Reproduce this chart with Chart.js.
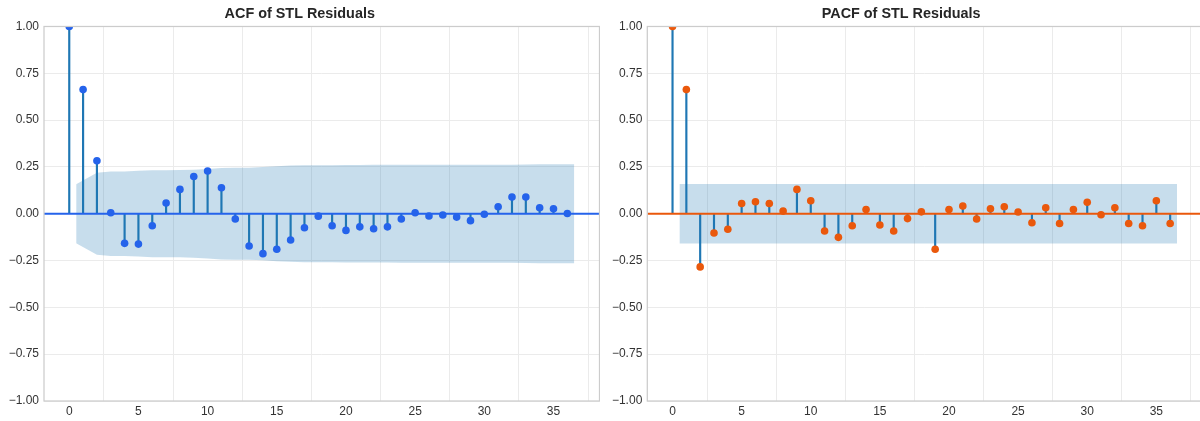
<!DOCTYPE html>
<html>
<head>
<meta charset="utf-8">
<title>ACF / PACF of STL Residuals</title>
<script src="https://cdn.jsdelivr.net/npm/chart.js@4.4.1/dist/chart.umd.min.js"></script>
<style>
  html, body { margin: 0; padding: 0; background: #ffffff; width: 1200px; height: 421px; overflow: hidden; }
  #acfChart  { position: absolute; left: 0;     top: 0; }
  #pacfChart { position: absolute; left: 600px; top: 0; }
</style>
</head>
<body>
<canvas id="acfChart" width="600" height="421"></canvas>
<canvas id="pacfChart" width="605" height="421"></canvas>
<script>
// ---- data ---------------------------------------------------------------
const lags = [0, 1, 2, 3, 4, 5, 6, 7, 8, 9, 10, 11, 12, 13, 14, 15, 16, 17, 18,
              19, 20, 21, 22, 23, 24, 25, 26, 27, 28, 29, 30, 31, 32, 33, 34, 35, 36];

const acfValues = [1.000, 0.663, 0.283, 0.005, -0.158, -0.162, -0.064, 0.057, 0.130,
                   0.199, 0.228, 0.139, -0.028, -0.172, -0.213, -0.190, -0.140, -0.075,
                   -0.013, -0.064, -0.089, -0.070, -0.080, -0.070, -0.028, 0.005, -0.012,
                   -0.007, -0.018, -0.037, -0.003, 0.037, 0.089, 0.089, 0.032, 0.027, 0.001];

const pacfValues = [1.000, 0.663, -0.284, -0.103, -0.083, 0.055, 0.064, 0.055, 0.014,
                    0.130, 0.069, -0.092, -0.126, -0.064, 0.023, -0.060, -0.092, -0.026,
                    0.010, -0.190, 0.023, 0.041, -0.028, 0.027, 0.037, 0.009, -0.048,
                    0.032, -0.052, 0.023, 0.061, -0.005, 0.032, -0.052, -0.064, 0.069, -0.052];

// 95% confidence band (half-width), drawn from lag 0.5 to lag 36.5
const acfBandLags = [0.5, 2, 3, 4, 5, 6, 7, 8, 9, 10, 11, 12, 13, 14, 15, 16, 17, 18, 19,
                     20, 21, 22, 23, 24, 25, 26, 27, 28, 29, 30, 31, 32, 33, 34, 35, 36.5];
const acfBandUpper = [0.158, 0.219, 0.226, 0.226, 0.229, 0.232, 0.232, 0.233, 0.235, 0.239,
                      0.244, 0.246, 0.246, 0.249, 0.254, 0.257, 0.259, 0.259, 0.259, 0.260,
                      0.260, 0.261, 0.261, 0.262, 0.262, 0.262, 0.262, 0.262, 0.262, 0.262,
                      0.262, 0.262, 0.263, 0.264, 0.264, 0.264];

const pacfBandLags = [0.5, 36.5];
const pacfBandUpper = [0.159, 0.159];

const xTickValues = [0, 5, 10, 15, 20, 25, 30, 35];
const yTickValues = [-1.00, -0.75, -0.50, -0.25, 0.00, 0.25, 0.50, 0.75, 1.00];
const lagAxisRange = [-1.825, 38.325];

// ---- styling --------------------------------------------------------------
Chart.defaults.font.family = "'Liberation Sans', Arial, sans-serif";
Chart.defaults.font.size = 12;
Chart.defaults.color = '#333333';

const STEM_COLOR = '#1f77b4';
const BAND_COLOR = 'rgba(31, 119, 180, 0.25)';
const GRID_COLOR = '#ebebeb';
const FRAME_COLOR = '#cccccc';

// Box around the plotting area (all four sides)
const framePlugin = {
  id: 'plotFrame',
  afterDatasetsDraw(chart) {
    const { ctx, chartArea: a } = chart;
    ctx.save();
    ctx.strokeStyle = FRAME_COLOR;
    ctx.lineWidth = 1.25;
    ctx.strokeRect(a.left, a.top, a.right - a.left, a.bottom - a.top);
    ctx.restore();
  }
};

function fmtTick(v) {
  return v.toFixed(2).replace('-', '\u2212');
}

function buildCorrChart(canvasId, opts) {
  const points = lags.map((l, i) => ({ x: l, y: opts.values[i] }));
  const stems = lags.map((l, i) => ({ x: l, y: [0, opts.values[i]] }));
  const upper = opts.bandLags.map((l, i) => ({ x: l, y: opts.bandUpper[i] }));
  const lower = opts.bandLags.map((l, i) => ({ x: l, y: -opts.bandUpper[i] }));

  return new Chart(document.getElementById(canvasId), {
    type: 'bar',
    data: {
      datasets: [
        { // confidence band, upper edge (filled down to the lower edge)
          type: 'line', data: upper, fill: '+1', backgroundColor: BAND_COLOR,
          borderWidth: 0, pointRadius: 0, tension: 0, order: 4
        },
        { // confidence band, lower edge
          type: 'line', data: lower, fill: false,
          borderWidth: 0, pointRadius: 0, tension: 0, order: 5
        },
        { // stems
          type: 'bar', data: stems, backgroundColor: STEM_COLOR,
          barThickness: 1.5, borderWidth: 0, grouped: false, order: 3
        },
        { // zero reference line
          type: 'line',
          data: [{ x: lagAxisRange[0], y: 0 }, { x: lagAxisRange[1], y: 0 }],
          borderColor: opts.markerColor, borderWidth: 2, pointRadius: 0, order: 2
        },
        { // markers
          type: 'scatter', data: points, backgroundColor: opts.markerColor,
          pointRadius: 3.8, pointBorderWidth: 0, pointHoverRadius: 3.8, clip: 0, order: 1
        }
      ]
    },
    options: {
      responsive: false,
      devicePixelRatio: 1,
      animation: false,
      events: [],
      layout: {
        autoPadding: false,
        padding: { left: 0, right: opts.padRight, top: 0, bottom: 0 }
      },
      plugins: {
        legend: { display: false },
        tooltip: { enabled: false },
        title: {
          display: true,
          text: opts.title,
          color: '#262626',
          font: { size: 14.4, weight: 'bold', lineHeight: 1.2 },
          padding: { top: 5.4, bottom: 3.8 }
        }
      },
      scales: {
        x: {
          type: 'linear',
          offset: false,
          min: lagAxisRange[0],
          max: lagAxisRange[1],
          afterBuildTicks(scale) { scale.ticks = xTickValues.map(v => ({ value: v })); },
          afterFit(scale) {
            scale.height = 20;
            scale.paddingLeft = 0;
            scale.paddingRight = 0;
          },
          ticks: { padding: 3.5, color: '#333333', callback: v => String(v), maxRotation: 0 },
          grid: { color: GRID_COLOR, lineWidth: 1, drawTicks: false },
          border: { display: false }
        },
        y: {
          type: 'linear',
          min: -1,
          max: 1,
          afterBuildTicks(scale) { scale.ticks = yTickValues.map(v => ({ value: v })); },
          afterFit(scale) {
            scale.width = opts.yAxisWidth;
            scale.paddingTop = 0;
            scale.paddingBottom = 0;
          },
          ticks: { padding: 5, color: '#333333', callback: v => fmtTick(v) },
          grid: { color: GRID_COLOR, lineWidth: 1, drawTicks: false },
          border: { display: false }
        }
      }
    },
    plugins: [framePlugin]
  });
}

buildCorrChart('acfChart', {
  title: 'ACF of STL Residuals',
  values: acfValues,
  bandLags: acfBandLags,
  bandUpper: acfBandUpper,
  markerColor: '#2563eb',
  yAxisWidth: 44,
  padRight: 0.5
});

buildCorrChart('pacfChart', {
  title: 'PACF of STL Residuals',
  values: pacfValues,
  bandLags: pacfBandLags,
  bandUpper: pacfBandUpper,
  markerColor: '#ea580c',
  yAxisWidth: 47.3,
  padRight: 2.7
});
</script>
</body>
</html>
